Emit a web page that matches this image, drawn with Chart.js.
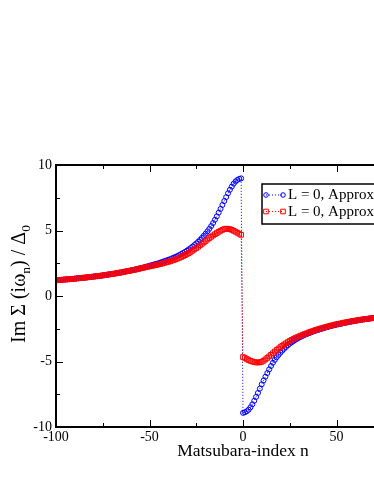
<!DOCTYPE html>
<html>
<head>
<meta charset="utf-8">
<script src="https://cdn.jsdelivr.net/npm/chart.js@4/dist/chart.umd.min.js"></script>
<style>
html,body{margin:0;padding:0;background:#fff;overflow:hidden;width:374px;height:484px;}
#wrap{position:absolute;left:0;top:0;width:440px;height:484px;}
</style>
</head>
<body>
<div id="wrap"><canvas id="c" width="440" height="484"></canvas></div>
<script>
// Matsubara index n
const nIndex = [
-100,-99,-98,-97,-96,-95,-94,-93,-92,-91,
-90,-89,-88,-87,-86,-85,-84,-83,-82,-81,
-80,-79,-78,-77,-76,-75,-74,-73,-72,-71,
-70,-69,-68,-67,-66,-65,-64,-63,-62,-61,
-60,-59,-58,-57,-56,-55,-54,-53,-52,-51,
-50,-49,-48,-47,-46,-45,-44,-43,-42,-41,
-40,-39,-38,-37,-36,-35,-34,-33,-32,-31,
-30,-29,-28,-27,-26,-25,-24,-23,-22,-21,
-20,-19,-18,-17,-16,-15,-14,-13,-12,-11,
-10,-9,-8,-7,-6,-5,-4,-3,-2,-1,
0,1,2,3,4,5,6,7,8,9,
10,11,12,13,14,15,16,17,18,19,
20,21,22,23,24,25,26,27,28,29,
30,31,32,33,34,35,36,37,38,39,
40,41,42,43,44,45,46,47,48,49,
50,51,52,53,54,55,56,57,58,59,
60,61,62,63,64,65,66,67,68,69,
70,71,72,73,74,75,76,77,78,79,
80,81,82,83,84,85,86,87,88,89,
90,91,92,93,94,95,96,97,98,99
];
// Series 1 (blue circles)
const approx1 = [
1.20,1.21,1.22,1.23,1.25,1.26,1.27,1.28,1.30,1.31,
1.32,1.34,1.35,1.37,1.38,1.40,1.41,1.43,1.44,1.46,
1.48,1.50,1.51,1.53,1.55,1.57,1.59,1.61,1.64,1.66,
1.68,1.70,1.73,1.75,1.78,1.80,1.83,1.86,1.89,1.92,
1.95,1.98,2.01,2.05,2.08,2.12,2.15,2.19,2.23,2.27,
2.31,2.35,2.39,2.43,2.47,2.51,2.56,2.61,2.66,2.71,
2.76,2.81,2.87,2.93,2.99,3.06,3.13,3.21,3.29,3.37,
3.46,3.56,3.66,3.77,3.89,4.01,4.14,4.28,4.43,4.59,
4.76,4.94,5.13,5.34,5.57,5.82,6.08,6.36,6.65,6.95,
7.25,7.55,7.84,8.11,8.35,8.57,8.74,8.86,8.94,8.98,
-8.92,-8.88,-8.80,-8.68,-8.50,-8.27,-8.00,-7.70,-7.40,-7.07,
-6.74,-6.45,-6.16,-5.88,-5.60,-5.34,-5.10,-4.88,-4.68,-4.50,
-4.33,-4.17,-4.03,-3.89,-3.76,-3.64,-3.54,-3.44,-3.35,-3.26,
-3.18,-3.11,-3.04,-2.97,-2.91,-2.85,-2.80,-2.74,-2.69,-2.64,
-2.60,-2.55,-2.51,-2.46,-2.42,-2.38,-2.34,-2.30,-2.26,-2.23,
-2.19,-2.16,-2.13,-2.10,-2.07,-2.04,-2.01,-1.98,-1.95,-1.93,
-1.90,-1.87,-1.85,-1.82,-1.80,-1.78,-1.76,-1.74,-1.72,-1.70,
-1.68,-1.66,-1.64,-1.62,-1.60,-1.58,-1.56,-1.54,-1.52,-1.51,
-1.49,-1.47,-1.46,-1.44,-1.43,-1.41,-1.40,-1.38,-1.37,-1.35,
-1.34,-1.33,-1.31,-1.30,-1.29,-1.28,-1.26,-1.25,-1.24,-1.23
];
// Series 2 (red squares)
const approx2 = [
1.20,1.21,1.22,1.23,1.25,1.26,1.27,1.28,1.30,1.31,
1.32,1.34,1.35,1.37,1.38,1.40,1.41,1.43,1.44,1.46,
1.48,1.50,1.51,1.53,1.55,1.57,1.59,1.61,1.64,1.66,
1.68,1.70,1.73,1.75,1.78,1.80,1.83,1.86,1.89,1.92,
1.94,1.97,2.00,2.03,2.06,2.10,2.13,2.16,2.20,2.23,
2.26,2.29,2.32,2.35,2.38,2.42,2.45,2.49,2.53,2.57,
2.61,2.65,2.70,2.75,2.80,2.86,2.92,2.98,3.05,3.12,
3.20,3.28,3.37,3.46,3.56,3.66,3.76,3.87,3.98,4.09,
4.20,4.31,4.42,4.52,4.62,4.72,4.81,4.90,4.98,5.05,
5.11,5.14,5.13,5.10,5.05,4.98,4.91,4.83,4.75,4.67,
-4.66,-4.73,-4.81,-4.89,-4.95,-5.00,-5.04,-5.07,-5.08,-5.06,
-5.02,-4.94,-4.84,-4.73,-4.61,-4.49,-4.37,-4.24,-4.12,-4.01,
-3.90,-3.80,-3.70,-3.61,-3.52,-3.43,-3.35,-3.28,-3.21,-3.14,
-3.08,-3.02,-2.96,-2.90,-2.85,-2.79,-2.74,-2.69,-2.64,-2.59,
-2.54,-2.50,-2.46,-2.42,-2.38,-2.34,-2.30,-2.26,-2.23,-2.19,
-2.16,-2.13,-2.10,-2.07,-2.04,-2.01,-1.98,-1.96,-1.93,-1.90,
-1.88,-1.86,-1.83,-1.81,-1.79,-1.77,-1.75,-1.73,-1.71,-1.69,
-1.68,-1.66,-1.64,-1.62,-1.60,-1.58,-1.56,-1.54,-1.52,-1.51,
-1.49,-1.47,-1.46,-1.44,-1.43,-1.41,-1.40,-1.38,-1.37,-1.35,
-1.34,-1.33,-1.31,-1.30,-1.29,-1.28,-1.26,-1.25,-1.24,-1.23
];
const seriesNames = ["L = 0, Approx. 1", "L = 0, Approx. 2"];
const xTicks = [-100, -50, 0, 50, 100];
const yTicks = [-10, -5, 0, 5, 10];
const xTitle = "Matsubara-index n";

const SERIF = "'Liberation Serif','Times New Roman',serif";
const BLUE = "#0000ff", RED = "#ff0000";

const toPts = vals => nIndex.map((n, i) => ({x: n, y: vals[i]}));

const framePlugin = {
  id: 'frame',
  beforeDraw(chart) {
    const ctx = chart.ctx;
    ctx.save(); ctx.fillStyle = '#fff'; ctx.fillRect(0, 0, chart.width, chart.height); ctx.restore();
  },
  afterDraw(chart) {
    const ctx = chart.ctx, ca = chart.chartArea;
    const xs = chart.scales.x, ys = chart.scales.y;
    ctx.save();
    ctx.strokeStyle = '#000';
    ctx.lineWidth = 1;
    // inward ticks
    const minorX = [-75, -25, 25, 75];
    const minorY = [-7.5, -2.5, 2.5, 7.5];
    ctx.beginPath();
    xTicks.forEach(v => { const p = Math.round(xs.getPixelForValue(v)) + 0.5;
      ctx.moveTo(p, ca.bottom); ctx.lineTo(p, ca.bottom - 7);
      ctx.moveTo(p, ca.top); ctx.lineTo(p, ca.top + 7); });
    minorX.forEach(v => { const p = Math.round(xs.getPixelForValue(v)) + 0.5;
      ctx.moveTo(p, ca.bottom); ctx.lineTo(p, ca.bottom - 4);
      ctx.moveTo(p, ca.top); ctx.lineTo(p, ca.top + 4); });
    yTicks.forEach(v => { const p = Math.round(ys.getPixelForValue(v)) + 0.5;
      ctx.moveTo(ca.left, p); ctx.lineTo(ca.left + 7, p);
      ctx.moveTo(ca.right, p); ctx.lineTo(ca.right - 7, p); });
    minorY.forEach(v => { const p = Math.round(ys.getPixelForValue(v)) + 0.5;
      ctx.moveTo(ca.left, p); ctx.lineTo(ca.left + 4, p);
      ctx.moveTo(ca.right, p); ctx.lineTo(ca.right - 4, p); });
    ctx.stroke();
    // frame
    ctx.lineWidth = 2;
    ctx.strokeRect(ca.left, ca.top, ca.right - ca.left, ca.bottom - ca.top);

    // legend box
    const bx = 262, by = 184, bw = 140, bh = 40;
    ctx.fillStyle = '#fff';
    ctx.fillRect(bx, by, bw, bh);
    ctx.lineWidth = 1.5;
    ctx.strokeStyle = '#000';
    ctx.strokeRect(bx, by, bw, bh);
    const rows = [
      {y: 195, color: BLUE, style: 'circle', label: seriesNames[0]},
      {y: 211.5, color: RED, style: 'rect', label: seriesNames[1]}
    ];
    rows.forEach(r => {
      ctx.strokeStyle = r.color; ctx.lineWidth = 1;
      ctx.setLineDash([1, 2]);
      ctx.beginPath(); ctx.moveTo(266, r.y); ctx.lineTo(283, r.y); ctx.stroke();
      ctx.setLineDash([]);
      [266, 283].forEach(px => {
        ctx.beginPath();
        if (r.style === 'circle') ctx.arc(px, r.y, 2.3, 0, Math.PI * 2);
        else ctx.rect(px - 2.3, r.y - 2.3, 4.6, 4.6);
        ctx.stroke();
      });
      ctx.fillStyle = '#000';
      ctx.font = "15px " + SERIF;
      ctx.textBaseline = 'middle'; ctx.textAlign = 'left';
      ctx.fillText(r.label, 288, r.y + 0.5);
    });

    // y-axis title with subscripts (rotated)
    ctx.translate(20, 284);
    ctx.rotate(-Math.PI / 2);
    const big = "20px " + SERIF, small = "13.5px " + SERIF;
    const parts = [
      {t: "Im \u03A3 (i\u03C9", f: big, dy: 0},
      {t: "n", f: small, dy: 6},
      {t: ") / \u0394", f: big, dy: 0},
      {t: "0", f: small, dy: 6}
    ];
    let total = 0;
    parts.forEach(p => { ctx.font = p.f; p.w = ctx.measureText(p.t).width; total += p.w; });
    let x0 = -total / 2;
    ctx.fillStyle = '#000'; ctx.textBaseline = 'middle'; ctx.textAlign = 'left';
    parts.forEach(p => { ctx.font = p.f; ctx.fillText(p.t, x0, p.dy); x0 += p.w; });
    ctx.restore();
  }
};

new Chart(document.getElementById('c'), {
  type: 'line',
  data: {
    datasets: [
      {
        label: seriesNames[0],
        data: toPts(approx1),
        borderColor: BLUE,
        backgroundColor: 'rgba(0,0,0,0)',
        pointBorderColor: BLUE,
        pointBackgroundColor: 'rgba(0,0,0,0)',
        pointStyle: 'circle',
        pointRadius: 2.5,
        pointBorderWidth: 1,
        borderWidth: 1,
        borderDash: [1, 2],
        tension: 0,
        order: 2
      },
      {
        label: seriesNames[1],
        data: toPts(approx2),
        borderColor: RED,
        backgroundColor: 'rgba(0,0,0,0)',
        pointBorderColor: RED,
        pointBackgroundColor: 'rgba(0,0,0,0)',
        pointStyle: 'rect',
        pointRadius: 3.3,
        pointBorderWidth: 1,
        borderWidth: 1,
        borderDash: [1, 2],
        tension: 0,
        order: 1
      }
    ]
  },
  options: {
    responsive: false,
    animation: false,
    devicePixelRatio: 1,
    layout: {padding: {left: 0, top: 165, right: 10, bottom: 0}},
    plugins: {legend: {display: false}, tooltip: {enabled: false}},
    scales: {
      x: {
        type: 'linear', min: -100, max: 100,
        afterBuildTicks: s => { s.ticks = xTicks.map(v => ({value: v})); },
        afterFit: s => { s.height = 57; s.paddingLeft = 0; s.paddingRight = 0; },
        grid: {display: false, drawTicks: false},
        border: {display: false},
        ticks: {color: '#000', font: {family: SERIF, size: 14}, padding: 2, maxRotation: 0, autoSkip: false},
        title: {display: true, text: xTitle, color: '#000', font: {family: SERIF, size: 17.5}, padding: {top: 0, bottom: 22}}
      },
      y: {
        type: 'linear', min: -10, max: 10,
        afterBuildTicks: s => { s.ticks = yTicks.map(v => ({value: v})); },
        afterFit: s => { s.width = 56; s.paddingTop = 0; s.paddingBottom = 0; },
        grid: {display: false, drawTicks: false},
        border: {display: false},
        ticks: {color: '#000', font: {family: SERIF, size: 14}, padding: 4, autoSkip: false},
        title: {display: false}
      }
    }
  },
  plugins: [framePlugin]
});
</script>
</body>
</html>
